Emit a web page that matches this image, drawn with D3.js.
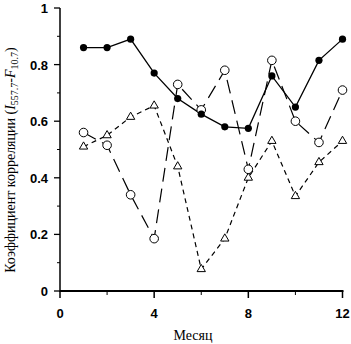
<!DOCTYPE html>
<html lang="ru">
<head>
<meta charset="UTF-8">
<title>Коэффициент корреляции</title>
<script src="https://d3js.org/d3.v7.min.js"></script>
<style>
  body { margin: 0; background: #fff; }
  .tick-lbl { font-family: Arial, "Liberation Sans", sans-serif; font-weight: bold; font-size: 13px; }
  .ax-title { font-family: "Liberation Serif", "DejaVu Serif", serif; font-weight: normal; font-size: 14px; }
</style>
</head>
<body>
<svg id="chart" width="351" height="344"></svg>
<script>
// months
var months = [1, 2, 3, 4, 5, 6, 7, 8, 9, 10, 11, 12];
// filled circles, solid line
var filledVals = [0.86, 0.86, 0.89, 0.77, 0.68, 0.625, 0.58, 0.575, 0.76, 0.65, 0.815, 0.89];
// open circles, long dashes
var openVals = [0.56, 0.515, 0.34, 0.185, 0.73, 0.64, 0.78, 0.43, 0.815, 0.60, 0.525, 0.71];
// triangles, short dashes
var triVals = [0.51, 0.55, 0.615, 0.655, 0.44, 0.077, 0.185, 0.40, 0.53, 0.335, 0.455, 0.53];

var xMajor = [0, 4, 8, 12], xMinor = [2, 6, 10];
var yMajor = [0, 0.2, 0.4, 0.6, 0.8, 1], yMinor = [0.1, 0.3, 0.5, 0.7, 0.9];

var svg = d3.select("#chart");
var x = d3.scaleLinear().domain([0, 12]).range([60, 342.5]);
var y = d3.scaleLinear().domain([0, 1]).range([291, 8]);

// y axis
svg.append("line").attr("x1", x(0)).attr("x2", x(0)).attr("y1", y(1)).attr("y2", y(0) + 1)
  .attr("stroke", "#000").attr("stroke-width", 1.5);
svg.selectAll(".ymaj").data(yMajor).enter().append("line")
  .attr("x1", x(0) - 6).attr("x2", x(0)).attr("y1", d => y(d)).attr("y2", d => y(d))
  .attr("stroke", "#000").attr("stroke-width", 1.3);
svg.selectAll(".ymin").data(yMinor).enter().append("line")
  .attr("x1", x(0) - 3).attr("x2", x(0)).attr("y1", d => y(d)).attr("y2", d => y(d))
  .attr("stroke", "#000").attr("stroke-width", 1);
svg.selectAll(".ylbl").data(yMajor).enter().append("text")
  .attr("class", "tick-lbl").attr("x", 48).attr("y", d => y(d) + 5)
  .attr("text-anchor", "end").text(d => d3.format("")(d));

// x axis
svg.append("line").attr("x1", x(0)).attr("x2", x(12) + 1).attr("y1", y(0)).attr("y2", y(0))
  .attr("stroke", "#000").attr("stroke-width", 2);
svg.selectAll(".xmaj").data(xMajor).enter().append("line")
  .attr("x1", d => x(d)).attr("x2", d => x(d)).attr("y1", y(0)).attr("y2", y(0) + 7)
  .attr("stroke", "#000").attr("stroke-width", 1.5);
svg.selectAll(".xmin").data(xMinor).enter().append("line")
  .attr("x1", d => x(d)).attr("x2", d => x(d)).attr("y1", y(0)).attr("y2", y(0) + 4)
  .attr("stroke", "#000").attr("stroke-width", 1);
svg.selectAll(".xlbl").data(xMajor).enter().append("text")
  .attr("class", "tick-lbl").attr("x", d => x(d)).attr("y", 318)
  .attr("text-anchor", "middle").text(d => d);

// titles
svg.append("text").attr("class", "ax-title").attr("x", 193).attr("y", 340)
  .attr("text-anchor", "middle").text("Месяц");
var yt = svg.append("text").attr("class", "ax-title")
  .attr("transform", "translate(15,160) rotate(-90)").attr("text-anchor", "middle");
yt.append("tspan").text("Коэффициент корреляции (");
yt.append("tspan").attr("font-style", "italic").text("I");
yt.append("tspan").attr("font-size", "10px").attr("dy", 3).text("557.7");
yt.append("tspan").attr("dy", -3).text("-");
yt.append("tspan").attr("font-style", "italic").text("F");
yt.append("tspan").attr("font-size", "10px").attr("dy", 3).text("10.7");
yt.append("tspan").attr("dy", -3).text(")");

var line = d3.line().x((d, i) => x(months[i])).y(d => y(d));

// series lines
svg.append("path").datum(triVals).attr("d", line).attr("fill", "none")
  .attr("stroke", "#000").attr("stroke-width", 1.2).attr("stroke-dasharray", "5,4");
svg.append("path").datum(openVals).attr("d", line).attr("fill", "none")
  .attr("stroke", "#000").attr("stroke-width", 1.2).attr("stroke-dasharray", "14,7");
svg.append("path").datum(filledVals).attr("d", line).attr("fill", "none")
  .attr("stroke", "#000").attr("stroke-width", 1.3);

// markers
svg.selectAll(".tri").data(triVals).enter().append("path")
  .attr("d", d3.symbol().type(d3.symbolTriangle).size(30))
  .attr("transform", (d, i) => "translate(" + x(months[i]) + "," + y(d) + ")")
  .attr("fill", "#fff").attr("stroke", "#000").attr("stroke-width", 1);
svg.selectAll(".opn").data(openVals).enter().append("circle")
  .attr("cx", (d, i) => x(months[i])).attr("cy", d => y(d)).attr("r", 4.3)
  .attr("fill", "#fff").attr("stroke", "#000").attr("stroke-width", 1);
svg.selectAll(".fil").data(filledVals).enter().append("circle")
  .attr("cx", (d, i) => x(months[i])).attr("cy", d => y(d)).attr("r", 3.6)
  .attr("fill", "#000");
</script>
</body>
</html>
